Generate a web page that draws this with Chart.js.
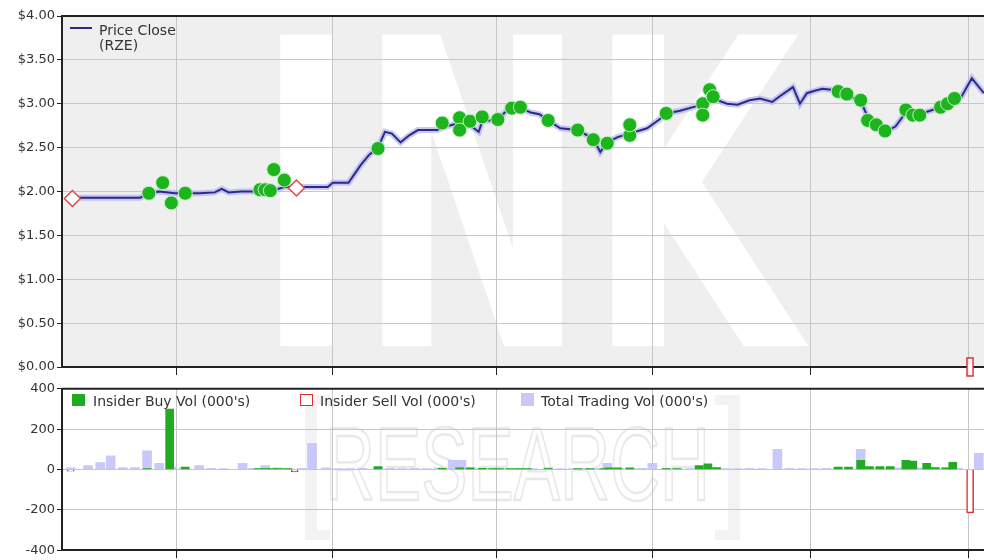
<!DOCTYPE html>
<html>
<head>
<meta charset="utf-8">
<script src="https://cdn.jsdelivr.net/npm/chart.js@4.4.1/dist/chart.umd.min.js"></script>
<style>
  body { margin: 0; width: 984px; height: 560px; background: #fff; position: relative; overflow: hidden; font-family: "DejaVu Sans", sans-serif; color: #333; }
  canvas { position: absolute; left: 0; }
  #priceChart { top: 0; }
  #volChart { top: 379px; }
  .lg { position: absolute; font-size: 14px; line-height: 15px; white-space: nowrap; color: #333; }
  .sw { position: absolute; }
</style>
</head>
<body>
<canvas id="priceChart" width="984" height="379"></canvas>
<canvas id="volChart" width="984" height="181"></canvas>

<!-- price legend -->
<div class="sw" style="left:70px;top:27px;width:22px;height:2px;background:#2b2b86"></div>
<div class="lg" style="left:99px;top:23px">Price Close<br>(RZE)</div>

<!-- volume legend -->
<div class="sw" style="left:72px;top:394px;width:13px;height:12px;background:#22aa22"></div>
<div class="lg" style="left:93px;top:394px">Insider Buy Vol (000's)</div>
<div class="sw" style="left:300px;top:394px;width:11px;height:10px;border:1px solid #d83030;background:#fff"></div>
<div class="lg" style="left:320px;top:394px">Insider Sell Vol (000's)</div>
<div class="sw" style="left:521px;top:393px;width:13px;height:13px;background:#c8c8fa"></div>
<div class="lg" style="left:541px;top:394px">Total Trading Vol (000's)</div>

<script>
// Axis positions (days from start of range)
const dayMax = 531;
const gridDays = [66, 156, 250, 340, 431, 522];

// Price close line
const priceDays = [7, 22, 45, 50, 56, 65, 71, 79, 88, 92, 96, 103, 111, 115, 123, 128, 135, 143, 153, 156,
    165, 172, 177, 182, 186, 190, 195, 200, 205, 216, 221, 229, 236, 240, 242, 251, 255, 259, 264, 270,
    275, 280, 287, 297, 306, 310, 314, 320, 327, 337, 344, 348, 356, 365, 369, 375, 383, 389, 396, 402,
    409, 413, 421, 425, 429, 434, 438, 447, 452, 460, 464, 469, 474, 480, 486, 494, 500, 506, 513, 518,
    524, 531];
const priceClose = [1.93, 1.93, 1.93, 1.98, 2.00, 1.98, 1.98, 1.98, 1.99, 2.03, 1.99, 2.00, 2.00, 2.02, 2.02, 2.05, 2.05, 2.05, 2.05, 2.10,
    2.10, 2.30, 2.42, 2.50, 2.68, 2.66, 2.56, 2.64, 2.70, 2.70, 2.74, 2.78, 2.74, 2.68, 2.80, 2.82, 2.90, 2.95, 2.95, 2.90,
    2.88, 2.81, 2.72, 2.70, 2.60, 2.45, 2.56, 2.62, 2.66, 2.72, 2.82, 2.89, 2.92, 2.97, 3.00, 3.06, 3.00, 2.99, 3.04, 3.06,
    3.02, 3.08, 3.19, 3.00, 3.12, 3.15, 3.17, 3.15, 3.10, 3.03, 2.85, 2.74, 2.68, 2.74, 2.90, 2.88, 2.92, 2.96, 3.04, 3.08,
    3.29, 3.12];

// Insider buys / sells on the price panel
const buyDays = [50, 58, 63, 71, 114, 117, 120, 122, 128, 182, 219, 229, 229, 235, 242, 251, 259, 264, 280, 297,
    306, 314, 327, 327, 348, 369, 369, 373, 375, 447, 452, 460, 464, 469, 474, 486, 490, 494, 506, 510, 514];
const buyPrice = [1.98, 2.10, 1.87, 1.98, 2.02, 2.02, 2.01, 2.25, 2.13, 2.49, 2.78, 2.84, 2.70, 2.80, 2.85, 2.82, 2.95, 2.96, 2.81, 2.70,
    2.59, 2.55, 2.64, 2.76, 2.89, 3.00, 2.87, 3.16, 3.08, 3.14, 3.11, 3.04, 2.81, 2.76, 2.69, 2.93, 2.87, 2.87, 2.96, 3.00, 3.06];
const sellDays = [6, 135, 523];
const sellPrice = [1.92, 2.04, 0];

// Volume panel (000's)
const totalVolDays = [5, 15, 22, 28, 35, 42, 49, 56, 63, 70, 79, 86, 93, 104, 110, 117, 124, 131, 138, 144,
    152, 159, 166, 173, 182, 189, 196, 203, 210, 217, 225, 230, 236, 243, 250, 257, 264, 271, 280, 287,
    294, 301, 308, 314, 321, 328, 334, 340, 348, 355, 362, 367, 375, 382, 389, 396, 403, 412, 419, 426,
    433, 440, 447, 453, 460, 467, 474, 481, 488, 495, 502, 509, 516, 528];
const totalVol = [8, 20, 34, 68, 10, 10, 93, 30, 12, 10, 20, 6, 5, 30, 6, 20, 8, 5, 6, 130,
    8, 5, 5, 6, 10, 6, 5, 6, 5, 8, 45, 45, 8, 6, 6, 5, 6, 5, 10, 5,
    5, 6, 5, 30, 6, 5, 6, 30, 6, 5, 5, 15, 8, 5, 5, 6, 5, 100, 6, 5,
    5, 6, 8, 10, 100, 8, 10, 8, 10, 8, 10, 8, 6, 80];
const buyVolDays = [49, 62, 71, 113, 117, 121, 125, 130, 182, 219, 229, 235, 242, 248, 252, 258, 263, 268, 280, 297,
    304, 312, 315, 320, 327, 348, 354, 367, 372, 377, 447, 453, 460, 465, 471, 477, 486, 490, 498, 503, 509, 513];
const buyVol = [5, 300, 12, 5, 5, 5, 5, 5, 15, 6, 8, 8, 6, 5, 5, 5, 5, 5, 5, 5,
    5, 5, 8, 8, 8, 5, 5, 20, 28, 10, 12, 12, 45, 15, 15, 15, 45, 42, 30, 10, 8, 35];
const sellVolDays = [5, 134, 523];
const sellVol = [-8, -12, -215];

const font = { family: 'DejaVu Sans', size: 13 };
const gridColor = '#c6c6c6';
const inkColor = '#222';

// Narrow outlined marker used for the sell recorded at $0
const thinRect = document.createElement('canvas');
thinRect.width = 8;
thinRect.height = 20;
(function () {
    const c = thinRect.getContext('2d');
    c.fillStyle = '#fff';
    c.fillRect(1, 1, 6, 18);
    c.strokeStyle = '#d83030';
    c.lineWidth = 1.5;
    c.strokeRect(1, 1, 6, 18);
})();

const xAxis = (height) => ({
    type: 'linear',
    min: 0,
    max: dayMax,
    offset: false,
    afterBuildTicks: s => { s.ticks = gridDays.map(v => ({ value: v })); },
    afterFit: s => { s.height = height; },
    ticks: { display: false },
    grid: { color: gridColor, tickColor: inkColor, tickLength: 8, offset: false },
    border: { color: inkColor, width: 2 }
});

// Background + "INK" watermark, top border line
const inkMark = {
    id: 'inkMark',
    beforeDraw(chart) {
        const { ctx, chartArea: a } = chart;
        ctx.save();
        ctx.fillStyle = '#efefef';
        ctx.fillRect(a.left, a.top, a.right - a.left, a.bottom - a.top);
        ctx.beginPath();
        ctx.rect(a.left, a.top, a.right - a.left, a.bottom - a.top);
        ctx.clip();
        ctx.font = 'bold 100px "DejaVu Sans"';
        const w = ctx.measureText('INK').width;
        ctx.translate(255, 346);
        ctx.scale(545 / w, 312 / 73);
        ctx.fillStyle = '#fff';
        ctx.fillText('INK', 0, 0);
        ctx.restore();
    },
    afterDraw(chart) {
        const { ctx, chartArea: a } = chart;
        ctx.save();
        ctx.strokeStyle = inkColor;
        ctx.lineWidth = 2;
        ctx.beginPath();
        ctx.moveTo(a.left, a.top);
        ctx.lineTo(a.right, a.top);
        ctx.stroke();
        ctx.restore();
    }
};

// "[RESEARCH]" watermark, top border line
const researchMark = {
    id: 'researchMark',
    beforeDraw(chart) {
        const { ctx } = chart;
        ctx.save();
        ctx.fillStyle = '#f3f3f3';
        // brackets (canvas is offset 379px)
        ctx.fillRect(305, 16, 12, 145);
        ctx.fillRect(305, 16, 25, 10);
        ctx.fillRect(305, 151, 25, 10);
        ctx.fillRect(728, 16, 12, 145);
        ctx.fillRect(715, 16, 25, 10);
        ctx.fillRect(715, 151, 25, 10);
        ctx.font = '100px "Liberation Sans"';
        const w = ctx.measureText('RESEARCH').width;
        ctx.translate(325, 121);
        const sx = 385 / w, sy = 75 / 72;
        ctx.scale(sx, sy);
        ctx.strokeStyle = '#e8e8e8';
        ctx.lineWidth = 1.5 / sx;
        ctx.strokeText('RESEARCH', 0, 0);
        ctx.restore();
    },
    afterDraw(chart) {
        const { ctx, chartArea: a } = chart;
        ctx.save();
        ctx.strokeStyle = inkColor;
        ctx.lineWidth = 2;
        ctx.beginPath();
        ctx.moveTo(a.left, a.top);
        ctx.lineTo(a.right, a.top);
        ctx.stroke();
        ctx.restore();
    }
};

const pricePoints = priceDays.map((d, i) => ({ x: d, y: priceClose[i] }));

new Chart(document.getElementById('priceChart'), {
    type: 'line',
    data: {
        datasets: [
            {
                label: 'Insider Sell',
                data: sellDays.map((d, i) => ({ x: d, y: sellPrice[i] })),
                showLine: false,
                pointStyle: ctx => (sellPrice[ctx.dataIndex] === 0 ? thinRect : 'rectRot'),
                pointRadius: 8,
                backgroundColor: '#fff',
                borderColor: '#e04848',
                borderWidth: 1.5,
                clip: false,
                order: 0
            },
            {
                label: 'Insider Buy',
                data: buyDays.map((d, i) => ({ x: d, y: buyPrice[i] })),
                showLine: false,
                pointStyle: 'circle',
                pointRadius: 7,
                backgroundColor: '#1db41d',
                borderColor: '#c8f0c8',
                borderWidth: 1,
                order: 1
            },
            {
                label: 'Price Close (RZE)',
                data: pricePoints,
                borderColor: '#2b2b86',
                borderWidth: 2,
                pointRadius: 0,
                tension: 0,
                order: 2
            },
            {
                label: 'Price band',
                data: pricePoints,
                borderColor: 'rgba(176,176,244,0.7)',
                borderWidth: 6,
                pointRadius: 0,
                tension: 0,
                order: 3
            }
        ]
    },
    options: {
        responsive: false,
        animation: false,
        layout: { autoPadding: false, padding: { top: 16, right: 0, bottom: 0, left: 0 } },
        plugins: { legend: { display: false }, tooltip: { enabled: false } },
        scales: {
            x: xAxis(12),
            y: {
                min: 0,
                max: 4,
                afterFit: s => { s.width = 62; },
                ticks: {
                    stepSize: 0.5,
                    color: '#333',
                    font: font,
                    padding: 2,
                    callback: v => '$' + Number(v).toFixed(2)
                },
                grid: { color: gridColor, tickColor: inkColor, tickLength: 5 },
                border: { color: inkColor, width: 2 }
            }
        }
    },
    plugins: [inkMark]
});

new Chart(document.getElementById('volChart'), {
    type: 'bar',
    data: {
        datasets: [
            {
                label: "Insider Sell Vol (000's)",
                data: sellVolDays.map((d, i) => ({ x: d, y: sellVol[i] })),
                backgroundColor: '#fff',
                borderColor: '#d83030',
                borderWidth: 1.5,
                barThickness: 7,
                grouped: false,
                order: 0
            },
            {
                label: "Insider Buy Vol (000's)",
                data: buyVolDays.map((d, i) => ({ x: d, y: buyVol[i] })),
                backgroundColor: '#22aa22',
                barThickness: 8,
                grouped: false,
                order: 1
            },
            {
                label: "Total Trading Vol (000's)",
                data: totalVolDays.map((d, i) => ({ x: d, y: totalVol[i] })),
                backgroundColor: '#c8c8fa',
                barThickness: 9,
                grouped: false,
                order: 2
            }
        ]
    },
    options: {
        responsive: false,
        animation: false,
        layout: { autoPadding: false, padding: { top: 8, right: 0, bottom: 0, left: 0 } },
        plugins: { legend: { display: false }, tooltip: { enabled: false } },
        scales: {
            x: xAxis(8),
            y: {
                min: -400,
                max: 400,
                afterFit: s => { s.width = 62; },
                ticks: { stepSize: 200, color: '#333', font: font, padding: 2 },
                grid: { color: gridColor, tickColor: inkColor, tickLength: 5 },
                border: { color: inkColor, width: 2 }
            }
        }
    },
    plugins: [researchMark]
});
</script>
</body>
</html>
